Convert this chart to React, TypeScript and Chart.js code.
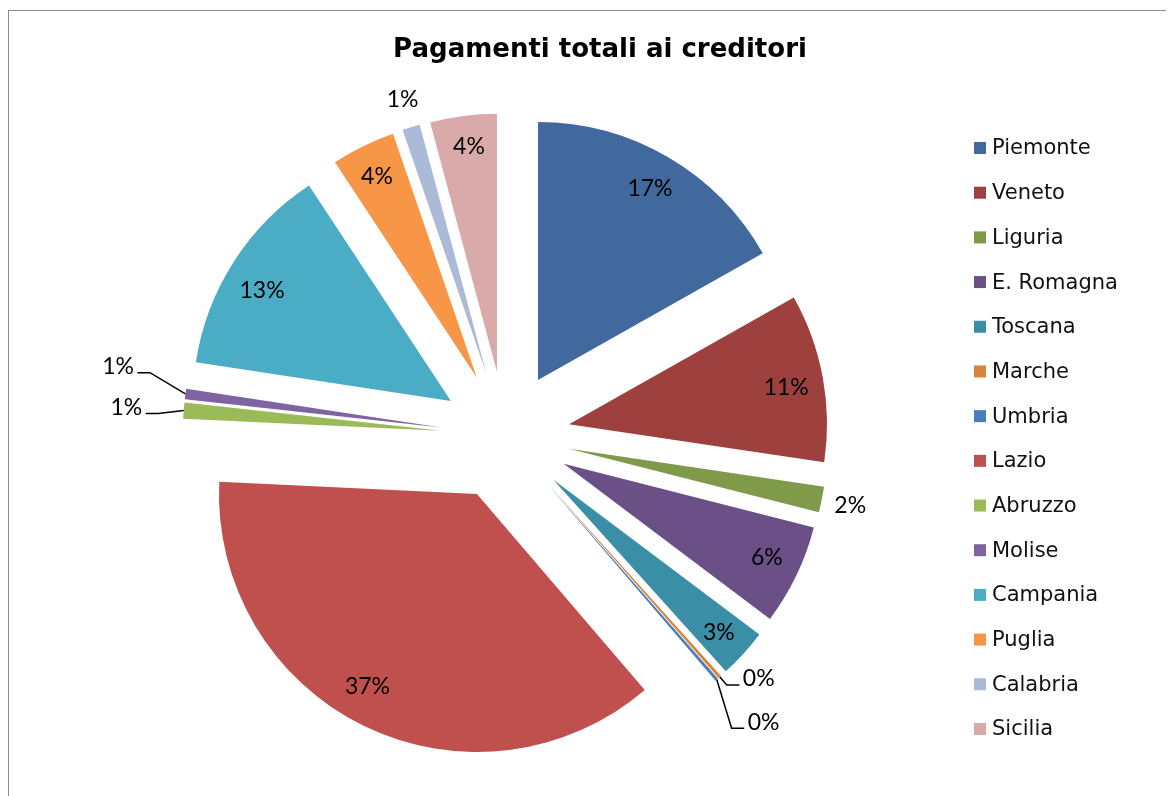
import { useEffect, useRef } from 'react';
import { Chart, registerables } from 'chart.js';

Chart.register(...registerables);

// ---- data ----
const chartTitle = 'Pagamenti totali ai creditori';
const regions = [
  'Piemonte', 'Veneto', 'Liguria', 'E. Romagna', 'Toscana', 'Marche', 'Umbria',
  'Lazio', 'Abruzzo', 'Molise', 'Campania', 'Puglia', 'Calabria', 'Sicilia',
];
const shares = [16.83, 10.53, 1.6, 6.3, 3.07, 0.2, 0.2, 37.02, 1.0, 0.65, 13.33, 4.0, 1.1, 4.17];
const sliceColors = [
  '#41699E', '#9E403D', '#7F9A48', '#6A5087', '#3A8EA5', '#D8843A', '#4A7EBB',
  '#C0504D', '#9BBB59', '#8064A2', '#4BACC6', '#F79646', '#AABAD7', '#D9AAA9',
];
// label placement style per slice: inside, outside, or with a leader line
const labelModes = ['in', 'in', 'out', 'in', 'in', 'leader', 'leader', 'in', 'leader', 'leader', 'in', 'in', 'out', 'in'];

// ---- styling constants ----
const EXPLODE = 64.7;
const RADIUS = 258;
const CANVAS_W = 1182;
const CANVAS_H = 790;
const LABEL_FONT = '23px Lato, "Open Sans", sans-serif';
const leaderStyle: Record<number, { ex: number; ey: number; dir: number }> = {
  5: { ex: 6.9, ey: 7.9, dir: 1 },
  6: { ex: 14.8, ey: 48.6, dir: 1 },
  8: { ex: -25.4, ey: 2.8, dir: -1 },
  9: { ex: -35.4, ey: -21.3, dir: -1 },
};
// small best-fit nudges of inside labels (pixels)
const labelNudge: Record<number, [number, number]> = {
  1: [-1, 4],
  3: [3, -2],
  4: [2, 3],
  7: [-12, -7],
  10: [-2, 9],
  11: [-2, -2],
  13: [1, -5],
};

const explodePlugin = {
  id: 'explodeSlices',
  afterDatasetUpdate(_chart: any, args: any) {
    args.meta.data.forEach((arc: any) => {
      const mid = (arc.startAngle + arc.endAngle) / 2;
      arc.x += EXPLODE * Math.cos(mid);
      arc.y += EXPLODE * Math.sin(mid);
    });
  },
};

const decorPlugin = {
  id: 'decor',
  afterDatasetsDraw(chart: any) {
    const ctx = chart.ctx as CanvasRenderingContext2D;
    const meta = chart.getDatasetMeta(0);
    const total = shares.reduce((a, b) => a + b, 0);
    ctx.save();
    ctx.font = LABEL_FONT;
    ctx.fillStyle = '#000';
    ctx.textBaseline = 'middle';
    meta.data.forEach((arc: any, i: number) => {
      const mid = (arc.startAngle + arc.endAngle) / 2;
      const ux = Math.cos(mid);
      const uy = Math.sin(mid);
      const r = arc.outerRadius;
      const text = Math.round((shares[i] / total) * 100) + '%';
      const mode = labelModes[i];
      if (mode === 'in') {
        const [nx, ny] = labelNudge[i] || [0, 0];
        ctx.textAlign = 'center';
        ctx.fillText(text, arc.x + ux * r * 0.86 + nx, arc.y + uy * r * 0.86 + ny);
      } else if (mode === 'out') {
        ctx.textAlign = 'center';
        ctx.fillText(text, arc.x + ux * (r + 29), arc.y + uy * (r + 29));
      } else {
        const st = leaderStyle[i];
        const tx = arc.x + ux * r;
        const ty = arc.y + uy * r;
        const exx = tx + st.ex;
        const eyy = ty + st.ey;
        const endx = exx + st.dir * 12.6;
        ctx.beginPath();
        ctx.strokeStyle = '#000';
        ctx.lineWidth = 1.5;
        ctx.moveTo(tx, ty);
        ctx.lineTo(exx, eyy);
        ctx.lineTo(endx, eyy);
        ctx.stroke();
        ctx.textAlign = st.dir > 0 ? 'left' : 'right';
        ctx.fillText(text, endx + st.dir * 3.5, eyy - 6);
      }
    });
    ctx.restore();
  },
  afterDraw(chart: any) {
    const ctx = chart.ctx as CanvasRenderingContext2D;
    ctx.save();
    // title
    ctx.fillStyle = '#000';
    ctx.font = 'bold 26px "DejaVu Sans"';
    ctx.textAlign = 'center';
    ctx.textBaseline = 'middle';
    ctx.fillText(chartTitle, CANVAS_W / 2, 39);
    // legend
    ctx.font = '21px "DejaVu Sans"';
    ctx.textAlign = 'left';
    regions.forEach((name, i) => {
      const cy = 137 + i * 44.69;
      ctx.fillStyle = sliceColors[i];
      ctx.fillRect(965, cy - 6, 12, 12);
      ctx.fillStyle = '#111';
      ctx.fillText(name, 983, cy + 1);
    });
    ctx.restore();
  },
};

export default function App() {
  const canvasRef = useRef<HTMLCanvasElement | null>(null);

  useEffect(() => {
    let chart: Chart | null = null;
    let cancelled = false;
    const build = () => {
      if (cancelled || !canvasRef.current) return;
      chart = new Chart(canvasRef.current, {
        type: 'pie',
        data: {
          labels: regions,
          datasets: [
            {
              data: shares,
              backgroundColor: sliceColors,
              borderWidth: 0,
            },
          ],
        },
        options: {
          responsive: false,
          animation: false,
          radius: RADIUS,
          layout: { padding: { left: 0, right: CANVAS_W - 2 * 496.4, top: 2 * 424.9 - CANVAS_H, bottom: 0 } },
          plugins: {
            legend: { display: false },
            title: { display: false },
            tooltip: { enabled: false },
          },
        } as any,
        plugins: [explodePlugin, decorPlugin],
      });
    };
    const fonts = (document as any).fonts;
    if (fonts && fonts.load) {
      Promise.all([
        fonts.load('23px Lato'),
        fonts.load('21px "DejaVu Sans"'),
        fonts.load('bold 26px "DejaVu Sans"'),
      ]).then(build, build);
    } else {
      build();
    }
    return () => {
      cancelled = true;
      if (chart) chart.destroy();
    };
  }, []);

  return (
    <div style={{ width: 1166, height: 788, overflow: 'hidden', position: 'relative' }}>
      <div
        style={{
          position: 'absolute',
          left: 0,
          top: 2,
          width: CANVAS_W,
          height: CANVAS_H + 20,
          border: '1px solid #8a8a8a',
          background: '#fff',
        }}
      >
        <canvas ref={canvasRef} width={CANVAS_W} height={CANVAS_H} style={{ display: 'block' }} />
      </div>
    </div>
  );
}
